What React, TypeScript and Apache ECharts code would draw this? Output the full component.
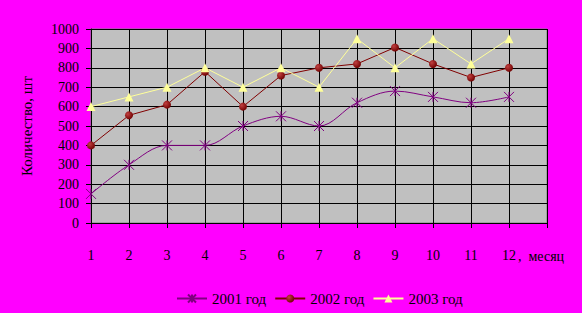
import React, { useEffect, useRef } from "react";
import * as echarts from "echarts";

const months = ["1", "2", "3", "4", "5", "6", "7", "8", "9", "10", "11", "12", ""];
const s2001 = [150, 300, 400, 400, 500, 550, 500, 620, 680, 650, 620, 650];
const s2002 = [400, 555, 610, 780, 600, 760, 800, 820, 905, 820, 750, 800];
const s2003 = [600, 650, 700, 800, 700, 800, 700, 950, 800, 950, 820, 950];
const seriesNames = ["2001 год", "2002 год", "2003 год"];

const FONT = "Liberation Serif";

export default function App() {
  const ref = useRef<HTMLDivElement>(null);
  useEffect(() => {
    document.body.style.margin = "0";
    const chart = echarts.init(ref.current!, null, { renderer: "svg" });
    chart.setOption({
      animation: false,
      backgroundColor: "#FF00FF",
      textStyle: { fontFamily: FONT, color: "#000" },
      grid: {
        left: 91,
        top: 29,
        right: 35,
        bottom: 90,
        show: true,
        backgroundColor: "#C0C0C0",
        borderColor: "#808080",
        borderWidth: 1,
      },
      legend: {
        left: 171,
        top: 286,
        itemWidth: 30,
        itemHeight: 10,
        itemGap: 8,
        textStyle: { fontFamily: FONT, fontSize: 15, color: "#000" },
        data: seriesNames,
      },
      xAxis: {
        type: "category",
        data: months,
        boundaryGap: false,
        axisLine: { lineStyle: { color: "#000", width: 1 } },
        axisTick: { show: true, length: 5, lineStyle: { color: "#000" } },
        axisLabel: { fontFamily: FONT, fontSize: 14, color: "#000", margin: 25 },
        splitLine: { show: true, lineStyle: { color: "#000", width: 1 } },
      },
      yAxis: {
        type: "value",
        min: 0,
        max: 1000,
        interval: 100,
        name: "Количество, шт",
        nameLocation: "middle",
        nameGap: 57,
        nameTextStyle: { fontFamily: FONT, fontSize: 15, color: "#000" },
        axisLine: { show: true, lineStyle: { color: "#000", width: 1 } },
        axisTick: { show: true, length: 5, lineStyle: { color: "#000" } },
        axisLabel: {
          fontFamily: FONT,
          fontSize: 14,
          color: "#000",
          margin: 12,
          formatter: (v: number) => String(v),
        },
        splitLine: { show: true, lineStyle: { color: "#000", width: 1 } },
      },
      graphic: [
        {
          type: "text",
          left: 518,
          top: 249,
          style: { text: ",  месяц", font: `14px "${FONT}"`, fill: "#000" },
        },
      ],
      series: [
        {
          name: seriesNames[0],
          type: "line",
          data: s2001,
          smooth: 0.35,
          symbol: "path://M0,0L10,10M10,0L0,10M5,0L5,10",
          symbolSize: 10,
          lineStyle: { color: "#800080", width: 1 },
          itemStyle: { color: "#800080", borderColor: "#800080", borderWidth: 1 },
        },
        {
          name: seriesNames[1],
          type: "line",
          data: s2002,
          symbol: "circle",
          symbolSize: 8,
          lineStyle: { color: "#800000", width: 1 },
          itemStyle: {
            color: new echarts.graphic.RadialGradient(0.35, 0.35, 0.7, [
              { offset: 0, color: "#C04040" },
              { offset: 1, color: "#700000" },
            ]),
          },
        },
        {
          name: seriesNames[2],
          type: "line",
          data: s2003,
          symbol: "triangle",
          symbolSize: 9,
          lineStyle: { color: "#FFFF99", width: 1 },
          itemStyle: { color: "#FFFF99" },
        },
      ],
    });
    return () => chart.dispose();
  }, []);
  return <div ref={ref} style={{ width: 582, height: 313 }} />;
}
